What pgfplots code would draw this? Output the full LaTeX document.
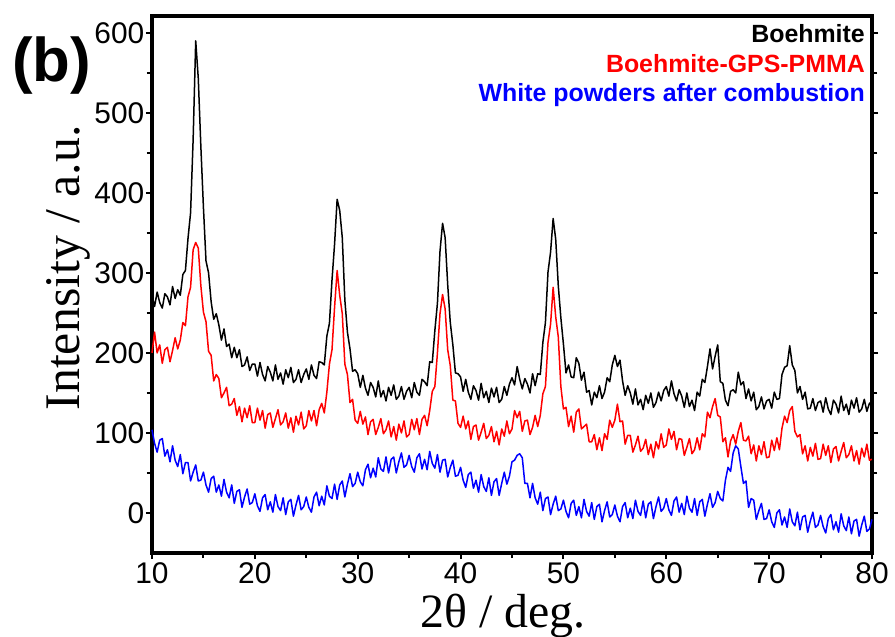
\documentclass[border=0pt]{standalone}
\usepackage{pgfplots}
\pgfplotsset{compat=1.18}
\usepackage{pgfplotstable}
\usepackage{fontspec}
\setmainfont{Liberation Sans}
\newfontfamily\serif{Liberation Serif}

\pgfplotstableread{
x k r b
10.00 272 200 104
10.25 258 226 87
10.50 276 200 76
10.75 263 210 91
11.00 256 187 93
11.25 274 204 71
11.50 270 207 79
11.75 260 189 64
12.00 283 203 84
12.25 268 219 66
12.50 279 205 58
12.75 272 216 73
13.00 298 238 49
13.25 303 234 63
13.50 343 270 63
13.75 375 282 40
14.00 467 329 51
14.25 590 338 60
14.50 543 331 40
14.75 458 284 41
15.00 382 251 51
15.25 315 239 35
15.50 300 202 26
15.75 264 197 43
16.00 242 165 46
16.25 249 173 26
16.50 235 168 35
16.75 216 144 21
17.00 230 150 42
17.25 208 157 26
17.50 211 134 19
17.75 194 136 35
18.00 207 143 12
18.25 194 122 27
18.50 204 133 29
18.75 183 114 7
19.00 185 131 20
19.25 195 119 30
19.50 178 134 11
19.75 186 113 13
20.00 186 113 24
20.25 171 131 9
20.50 188 116 2
20.75 173 128 19
21.00 165 106 23
21.25 183 123 4
21.50 176 125 14
21.75 165 107 1
22.00 185 118 23
22.25 167 129 8
22.50 175 110 3
22.75 161 114 19
23.00 179 125 -2
23.25 169 106 14
23.50 182 119 17
23.75 163 101 -4
24.00 167 121 10
24.25 179 110 22
24.50 163 126 4
24.75 173 105 8
25.00 180 109 20
25.25 167 128 7
25.50 185 115 1
25.75 172 128 20
26.00 168 109 26
26.25 189 129 9
26.50 188 137 21
26.75 185 125 10
27.00 221 151 34
27.25 237 186 21
27.50 291 204 18
27.75 336 257 36
28.00 392 303 17
28.25 378 272 35
28.50 344 249 40
28.75 266 186 20
29.00 226 173 36
29.25 205 138 49
29.50 177 142 33
29.75 179 116 37
30.00 174 112 51
30.25 157 127 39
30.50 172 111 34
30.75 156 120 54
31.00 147 98 61
31.25 163 114 44
31.50 157 117 56
31.75 145 98 45
32.00 165 107 69
32.25 145 118 55
32.50 153 99 52
32.75 140 104 70
33.00 157 115 50
33.25 147 95 67
33.50 160 108 70
33.75 142 91 50
34.00 146 111 64
34.25 158 100 75
34.50 142 115 57
34.75 152 95 60
35.00 157 98 72
35.25 144 117 58
35.50 163 104 51
35.75 151 118 69
36.00 147 98 74
36.25 167 117 55
36.50 164 122 67
36.75 159 109 54
37.00 189 128 77
37.25 188 152 62
37.50 228 158 56
37.75 262 200 73
38.00 327 249 51
38.25 362 273 66
38.50 344 255 67
38.75 285 204 45
39.00 238 184 57
39.25 210 141 66
39.50 175 140 46
39.75 174 112 47
40.00 170 107 57
40.25 152 121 41
40.50 167 105 32
40.75 151 115 48
41.00 142 92 51
41.25 159 108 31
41.50 153 110 41
41.75 141 91 26
42.00 162 101 48
42.25 144 112 33
42.50 152 93 27
42.75 138 97 44
43.00 156 108 22
43.25 145 89 39
43.50 157 102 43
43.75 138 85 22
44.00 142 105 37
44.25 158 96 51
44.50 147 115 36
44.75 161 99 46
45.00 169 105 64
45.25 160 128 66
45.50 183 119 72
45.75 167 127 74
46.00 155 102 69
46.25 168 115 37
46.50 161 116 37
46.75 150 98 19
47.00 174 107 37
47.25 159 122 19
47.50 174 108 11
47.75 173 122 26
48.00 213 149 3
48.25 238 158 18
48.50 301 213 20
48.75 326 236 -2
49.00 368 282 11
49.25 342 245 21
49.50 284 220 3
49.75 244 158 5
50.00 211 130 16
50.25 175 132 2
50.50 185 108 -6
50.75 170 121 12
51.00 169 101 16
51.25 194 126 -3
51.50 187 130 8
51.75 166 105 -6
52.00 176 108 17
52.25 151 111 2
52.50 153 89 -4
52.75 135 89 13
53.00 151 98 -8
53.25 144 79 8
53.50 159 94 11
53.75 143 78 -11
54.00 151 99 3
54.25 169 92 14
54.50 164 116 -5
54.75 185 107 -2
55.00 197 116 10
55.25 183 136 -4
55.50 191 114 -11
55.75 165 115 8
56.00 147 86 13
56.25 159 97 -6
56.50 150 97 6
56.75 136 76 -7
57.00 155 85 16
57.25 135 96 2
57.50 142 77 -3
57.75 129 81 15
58.00 147 92 -6
58.25 137 73 11
58.50 150 86 14
58.75 132 69 -7
59.00 138 89 8
59.25 151 80 20
59.50 140 99 2
59.75 153 82 6
60.00 158 85 18
60.25 146 105 4
60.50 165 92 -3
60.75 149 102 15
61.00 140 79 20
61.25 154 93 1
61.50 146 92 12
61.75 132 72 -2
62.00 150 82 21
62.25 133 93 6
62.50 141 74 1
62.75 128 79 18
63.00 151 94 -3
63.25 146 79 14
63.50 167 99 17
63.75 163 95 -4
64.00 183 126 11
64.25 205 119 24
64.50 180 133 7
64.75 196 143 13
65.00 210 122 27
65.25 164 120 18
65.50 162 89 15
65.75 141 94 41
66.00 134 70 57
66.25 152 90 52
66.50 154 98 75
66.75 150 86 84
67.00 176 102 80
67.25 160 113 58
67.50 164 91 37
67.75 143 90 40
68.00 155 96 7
68.25 140 74 18
68.50 151 85 16
68.75 129 65 -8
69.00 133 84 3
69.25 145 73 12
69.50 130 89 -8
69.75 140 69 -7
70.00 142 70 4
70.25 131 91 -11
70.50 151 78 -18
70.75 142 94 0
71.00 143 79 4
71.25 173 106 -15
71.50 182 121 -5
71.75 184 113 -18
72.00 209 128 5
72.25 185 133 -11
72.50 178 102 -16
72.75 150 95 1
73.00 158 98 -21
73.25 142 74 -5
73.50 151 84 -3
73.75 130 65 -24
74.00 131 82 -10
74.25 143 71 1
74.50 128 87 -18
74.75 138 67 -15
75.00 140 68 -3
75.25 126 86 -17
75.50 144 72 -25
75.75 130 84 -7
76.00 123 63 -2
76.25 141 80 -21
76.50 136 83 -11
76.75 125 65 -24
77.00 146 77 -1
77.25 128 88 -16
77.50 136 69 -22
77.75 123 73 -5
78.00 141 84 -26
78.25 131 65 -10
78.50 144 78 -8
78.75 126 61 -29
79.00 130 81 -15
79.25 142 70 -4
79.50 127 86 -23
79.75 137 66 -20
80.00 139 67 -8
}\xrd

\begin{document}
\begin{tikzpicture}
\useasboundingbox (-152bp,-84bp) rectangle (743bp,553bp);
\begin{axis}[
  at={(0,0)}, anchor=south west,
  width=720bp, height=537bp, scale only axis,
  xmin=10, xmax=80, ymin=-50, ymax=621,
  enlargelimits=false, clip=false,
  xtick={10,20,...,80}, ytick={0,100,...,600},
  minor x tick num=1, minor y tick num=1,
  tick align=outside,
  xtick pos=bottom, ytick pos=both, yticklabel pos=left,
  major tick length=6bp, minor tick length=5bp,
  tick style={line width=2bp, black},
  axis line style={line width=3.5bp},
  /pgf/number format/assume math mode=true,
  ticklabel style={font=\fontsize{30}{30}\selectfont},
  yticklabel style={inner sep=1.5bp},
  xticklabel style={inner sep=3bp},
  xlabel={\serif 2θ / deg.},
  ylabel={\serif Intensity / a.u.},
  xlabel style={font=\fontsize{48}{48}\selectfont, at={(axis description cs:0.488,-0.139)}, anchor=base, inner sep=0pt},
  ylabel style={font=\fontsize{50}{50}\selectfont, at={(axis description cs:-0.1,0.531)}, anchor=base, inner sep=0pt},
]
\addplot[black, line width=1.5bp, line join=round] table[x=x, y=k] {\xrd};
\addplot[red, line width=1.5bp, line join=round] table[x=x, y=r] {\xrd};
\addplot[blue, line width=1.5bp, line join=round] table[x=x, y=b] {\xrd};
\end{axis}
\node[anchor=base west, inner sep=0pt, font=\fontsize{62}{62}\selectfont\bfseries] at (-140bp,471bp) {(b)};
\node[anchor=base east, inner sep=0pt, font=\fontsize{25}{25}\selectfont\bfseries, text=black] at (713bp,510bp) {Boehmite};
\node[anchor=base east, inner sep=0pt, font=\fontsize{25}{25}\selectfont\bfseries, text=red] at (713bp,480bp) {Boehmite-GPS-PMMA};
\node[anchor=base east, inner sep=0pt, font=\fontsize{25}{25}\selectfont\bfseries, text=blue] at (713bp,451bp) {White powders after combustion};
\end{tikzpicture}
\end{document}
